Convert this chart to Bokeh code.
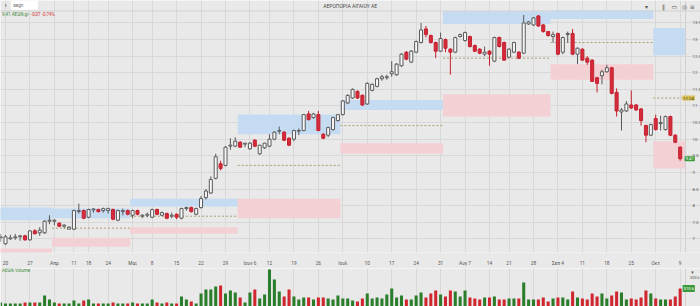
import math
from bokeh.plotting import figure
from bokeh.models import (Range1d, FixedTicker, Label, ColumnDataSource, Grid, LinearAxis,
                          Span, NumeralTickFormatter, BoxAnnotation)
from bokeh.layouts import column
from bokeh.embed import file_html
from bokeh.resources import INLINE

# ---------------- data ----------------
# trading-day index: 0 = 20 Mar 2023 ... 138 = 9 Oct 2023 (Athens exchange calendar)
day_index = list(range(-1, 139))

opens = [
    7.03, 6.85, 7.00, 7.03, 7.06, 7.09, 6.97, 7.24, 7.18, 7.18,
    7.53, 7.53, 7.47, 7.38, 7.29, 7.29, 7.82, 7.85, 7.65, 7.87,
    7.88, 7.85, 7.85, 7.88, 7.56, 7.82, 7.85, 7.71, 7.85, 7.68,
    7.71, 7.65, 7.88, 7.71, 7.76, 7.68, 7.74, 7.62, 7.91, 7.94,
    7.74, 7.94, 8.24, 8.38, 8.82, 9.26, 9.21, 9.79, 9.79, 9.91,
    9.85, 9.71, 9.97, 9.56, 9.74, 9.79, 10.00, 10.24, 10.21, 10.03,
    10.00, 10.24, 10.26, 10.76, 10.65, 10.74, 10.15, 10.12, 10.29, 10.56,
    10.74, 11.09, 11.24, 11.44, 11.32, 11.06, 11.47, 11.59, 11.82, 11.85,
    11.97, 11.94, 12.21, 12.62, 12.32, 12.62, 12.91, 13.32, 13.12, 12.91,
    12.65, 13.00, 12.71, 12.62, 13.09, 12.97, 13.09, 12.82, 12.71, 12.56,
    12.65, 12.35, 13.06, 12.91, 12.47, 12.62, 12.62, 12.59, 13.47, 13.44,
    13.71, 13.44, 13.24, 13.09, 13.18, 12.62, 13.15, 13.18, 12.56, 12.71,
    12.44, 12.38, 11.85, 11.91, 12.03, 12.15, 11.41, 10.82, 10.85, 11.03,
    11.03, 10.91, 10.41, 10.12, 10.62, 10.47, 10.29, 10.68, 10.12, 9.76,
]
highs = [
    7.15, 7.12, 7.12, 7.15, 7.12, 7.12, 7.26, 7.29, 7.35, 7.56,
    7.71, 7.59, 7.50, 7.44, 7.38, 7.88, 8.06, 7.88, 7.91, 7.91,
    7.91, 7.94, 7.94, 7.91, 7.88, 7.91, 7.88, 7.88, 7.88, 7.74,
    7.79, 7.91, 7.91, 7.82, 7.79, 7.79, 7.76, 7.94, 7.97, 7.97,
    7.94, 8.29, 8.50, 8.88, 9.56, 9.35, 9.79, 10.03, 10.06, 9.94,
    9.88, 9.91, 10.00, 9.82, 9.88, 10.15, 10.24, 10.38, 10.24, 10.06,
    10.29, 10.32, 10.76, 10.85, 10.79, 10.85, 10.18, 10.38, 10.68, 10.76,
    11.18, 11.35, 11.53, 11.47, 11.35, 11.71, 11.68, 11.85, 11.94, 11.94,
    12.35, 12.29, 12.59, 12.65, 12.68, 12.97, 13.50, 13.41, 13.15, 12.94,
    13.21, 13.03, 12.74, 13.09, 13.18, 13.24, 13.12, 12.85, 12.74, 12.79,
    12.68, 13.09, 13.09, 12.94, 12.74, 12.94, 12.65, 13.74, 13.56, 13.68,
    13.74, 13.47, 13.26, 13.24, 13.21, 13.09, 13.24, 13.32, 12.76, 12.74,
    12.50, 12.41, 11.88, 12.09, 12.24, 12.18, 11.53, 10.94, 11.15, 11.47,
    11.06, 10.94, 10.44, 10.47, 10.74, 10.71, 10.71, 10.71, 10.15, 9.79,
]
lows = [
    6.91, 6.82, 6.97, 6.97, 6.94, 6.94, 6.94, 7.15, 7.09, 7.15,
    7.44, 7.41, 7.35, 7.32, 7.29, 7.26, 7.76, 7.59, 7.62, 7.79,
    7.79, 7.79, 7.76, 7.56, 7.53, 7.71, 7.71, 7.62, 7.71, 7.62,
    7.65, 7.62, 7.71, 7.68, 7.59, 7.62, 7.59, 7.59, 7.85, 7.79,
    7.71, 7.91, 8.18, 8.35, 8.79, 9.06, 9.18, 9.68, 9.76, 9.74,
    9.76, 9.68, 9.76, 9.53, 9.71, 9.76, 9.97, 10.15, 9.94, 9.79,
    9.94, 10.12, 10.24, 10.56, 10.62, 10.24, 10.00, 10.06, 10.26, 10.53,
    10.71, 11.06, 11.21, 11.21, 11.00, 11.03, 11.44, 11.56, 11.76, 11.79,
    11.88, 11.91, 12.18, 12.38, 12.29, 12.59, 12.88, 13.06, 12.88, 12.44,
    12.62, 12.62, 11.94, 12.59, 13.06, 12.94, 12.76, 12.62, 12.56, 12.50,
    12.21, 12.32, 12.76, 12.38, 12.44, 12.59, 12.41, 12.56, 13.44, 13.41,
    13.38, 13.21, 13.09, 12.91, 12.53, 12.56, 12.91, 12.53, 12.26, 12.38,
    12.24, 11.74, 11.41, 11.65, 12.00, 11.35, 10.68, 10.26, 10.82, 10.91,
    10.85, 10.41, 9.91, 10.09, 10.26, 10.26, 10.26, 10.09, 9.88, 9.35,
]
closes = [
    7.06, 7.06, 7.03, 7.06, 7.09, 6.97, 7.24, 7.15, 7.26, 7.53,
    7.56, 7.56, 7.38, 7.41, 7.35, 7.85, 7.85, 7.62, 7.88, 7.90,
    7.82, 7.91, 7.91, 7.59, 7.85, 7.85, 7.74, 7.85, 7.74, 7.71,
    7.74, 7.88, 7.74, 7.79, 7.62, 7.71, 7.65, 7.91, 7.94, 7.82,
    7.91, 8.21, 8.44, 8.79, 9.47, 9.12, 9.76, 9.82, 9.94, 9.76,
    9.88, 9.88, 9.79, 9.82, 9.88, 10.00, 10.21, 10.26, 9.97, 9.82,
    10.26, 10.26, 10.74, 10.59, 10.76, 10.26, 10.03, 10.35, 10.65, 10.74,
    11.15, 11.32, 11.50, 11.24, 11.03, 11.68, 11.65, 11.82, 11.88, 11.88,
    12.03, 12.26, 12.56, 12.41, 12.65, 12.94, 13.29, 13.15, 12.91, 12.65,
    13.03, 12.74, 12.62, 13.06, 13.15, 13.21, 12.79, 12.65, 12.59, 12.62,
    12.56, 13.06, 12.79, 12.38, 12.71, 12.91, 12.44, 13.50, 13.53, 13.65,
    13.41, 13.24, 13.12, 13.15, 12.56, 13.06, 13.18, 12.56, 12.74, 12.38,
    12.32, 11.74, 11.68, 12.03, 12.15, 11.38, 10.85, 10.88, 11.06, 10.94,
    10.88, 10.56, 10.12, 10.44, 10.29, 10.50, 10.68, 10.12, 9.91, 9.41,
]
volumes_k = [
    69, 52, 52, 52, 52, 69, 69, 69, 69, 190,
    121, 69, 52, 52, 52, 103, 52, 103, 121, 52,
    52, 52, 52, 69, 52, 52, 52, 69, 52, 52,
    52, 121, 69, 52, 69, 52, 52, 172, 121, 86,
    52, 224, 293, 293, 345, 362, 224, 276, 241, 155,
    69, 241, 293, 138, 207, 638, 466, 259, 172, 293,
    172, 121, 155, 155, 121, 155, 155, 138, 121, 190,
    138, 138, 103, 86, 138, 224, 138, 155, 138, 207,
    310, 155, 190, 121, 121, 190, 241, 155, 224, 276,
    207, 172, 276, 259, 172, 276, 155, 138, 121, 155,
    155, 172, 121, 121, 138, 138, 138, 414, 121, 121,
    121, 155, 86, 138, 155, 155, 121, 259, 155, 138,
    121, 224, 172, 224, 138, 190, 259, 241, 121, 138,
    121, 155, 276, 224, 138, 121, 121, 121, 172, 310,
]

tick_positions = [0, 5, 10, 14, 17, 21, 26, 30, 35, 40, 45, 50, 54, 59, 64,
                  69, 74, 79, 84, 89, 94, 99, 103, 108, 113, 118, 123, 128, 133, 138]
tick_labels = ["20", "27", "Απρ", "11", "18", "24", "Μαι", "8", "15", "22", "29",
               "Ιουν 6", "12", "19", "26", "Ιουλ", "10", "17", "24", "31", "Αυγ 7",
               "14", "21", "28", "Σεπ 4", "11", "18", "25", "Οκτ", "9"]
price_ticks = [7, 7.5, 8, 8.5, 9, 9.5, 10, 10.5, 11, 11.5, 12, 12.5, 13, 13.5]
volume_ticks = [500]
volume_tick_labels = ["500 k"]

# monthly zones (Mar .. Oct): resistance (blue), support (pink), pivot (dotted)
zone_start = [-2, 9.5, 25.5, 47.5, 68.5, 89.5, 111.5, 132.5]
zone_end = [9.5, 25.5, 47.5, 68.5, 89.5, 111.5, 132.5, 139.1]
resist_top = [7.94, 7.91, 8.21, 10.74, 11.18, 13.85, 13.88, 13.35]
resist_bottom = [7.56, 7.62, 7.97, 10.15, 10.88, 13.47, 13.62, 12.53]
support_top = [6.71, 7.03, 7.35, 8.21, 9.88, 11.35, 12.26, 9.94]
support_bottom = [6.50, 6.76, 7.15, 7.62, 9.56, 10.68, 11.79, 9.12]
pivot = [float("nan"), 7.32, 7.68, 9.21, 10.41, 12.44, 12.91, 11.24]

last_price = closes[-1]
last_volume = volumes_k[-1]
oct_pivot = pivot[-1]
AXIS_AT = 139.1          # price scale sits at the right end of the data area
TAG_RIGHT = 141.0        # right edge of value tags, inside the canvas

# ---------------- styles ----------------
BG = "#e9e9e9"
GRID_C = "#d8d8d8"
UP_FILL = "#f7f7f7"
UP_LINE = "#5a5a5a"
DN_FILL = "#d52b3a"
DN_LINE = "#c4202f"
VOL_UP = "#2a7d2a"
VOL_DN = "#d0262f"
BLUE = "#c4dbf1"
PINK = "#f3d0d4"
PIVOT_C = "#ad9e6a"
FONT = "Roboto"
TXT = "#555555"

is_up = [c >= o for o, c in zip(opens, closes)]
src = ColumnDataSource(dict(
    x=day_index, high=highs, low=lows,
    top=[max(o, c) for o, c in zip(opens, closes)],
    bottom=[min(o, c) for o, c in zip(opens, closes)],
    fill=[UP_FILL if u else DN_FILL for u in is_up],
    line=[UP_LINE if u else DN_LINE for u in is_up],
    vol=volumes_k,
    vcol=[VOL_UP if u else VOL_DN for u in is_up],
))

xr = Range1d(-1.02, 142.16)

# ---------------- price panel ----------------
p = figure(width=700, height=268, title=None,
           x_range=xr, y_range=Range1d(6.588, 14.176),
           y_axis_location=None, output_backend="svg", toolbar_location=None,
           min_border_left=0, min_border_right=0, min_border_top=0, min_border_bottom=10,
           background_fill_color=BG, border_fill_color=BG, outline_line_color=None)

p.xaxis.ticker = FixedTicker(ticks=tick_positions)
p.xaxis.major_label_overrides = dict(zip(tick_positions, tick_labels))
yax = LinearAxis(fixed_location=AXIS_AT, ticker=FixedTicker(ticks=price_ticks),
                 formatter=NumeralTickFormatter(format="0.[0]"))
p.add_layout(yax, "right")
for ax in (p.xaxis[0], yax):
    ax.axis_line_color = None
    ax.major_tick_line_color = None
    ax.minor_tick_line_color = None
    ax.major_label_text_font = FONT
    ax.major_label_text_font_size = "4.8px"
    ax.major_label_text_color = TXT
    ax.major_label_standoff = 2
yax.major_label_text_font_size = "4.3px"
yax.major_label_standoff = 1
p.xgrid.grid_line_color = GRID_C
p.ygrid.grid_line_color = None
p.add_layout(Grid(dimension=1, ticker=FixedTicker(ticks=price_ticks), grid_line_color=GRID_C))
p.add_layout(Span(location=AXIS_AT, dimension="height", line_color="#d0d0d0", line_width=1))

p.quad(left=zone_start, right=zone_end, top=resist_top, bottom=resist_bottom,
       fill_color=BLUE, line_color=None)
p.quad(left=zone_start, right=zone_end, top=support_top, bottom=support_bottom,
       fill_color=PINK, line_color=None)
p.segment(x0=zone_start, x1=zone_end, y0=pivot, y1=pivot,
          line_color=PIVOT_C, line_width=1, line_dash="2 2")

p.segment(x0="x", y0="low", x1="x", y1="high", line_color="line", line_width=1, source=src)
p.vbar(x="x", width=0.62, top="top", bottom="bottom", fill_color="fill",
       line_color="line", line_width=1, source=src)

# header
p.add_layout(Span(location=13.86, dimension="width", line_color="#d2d2d2", line_width=1))
p.add_layout(BoxAnnotation(left=1.0, right=6.75, bottom=13.88, top=14.3,
                           fill_color="white", fill_alpha=1, line_color="#d0d0d0"))
p.add_layout(Label(x=-0.2, y=14.02, text="‹", text_font=FONT, text_font_size="8px",
                   text_color="#444", text_baseline="middle"))
p.add_layout(Label(x=1.6, y=14.03, text="aegn", text_font=FONT, text_font_size="4.5px",
                   text_color="#666", text_baseline="middle"))
p.add_layout(Label(x=70.5, y=14.01, text="ΑΕΡΟΠΟΡΙΑ ΑΙΓΑΙΟΥ ΑΕ", text_font=FONT,
                   text_font_size="5px", text_color="#4a4a4a",
                   text_align="center", text_baseline="middle"))
p.add_layout(Label(x=-0.7, y=13.75, text=f"{last_price:.2f} AEGN.gr".replace(".", ",", 1),
                   text_font=FONT, text_font_size="4.5px", text_color="#3a8a3a",
                   text_baseline="middle"))
p.add_layout(Label(x=5.2, y=13.75, text="-0,07 -0,74%", text_font=FONT,
                   text_font_size="4.5px", text_color="#d03030", text_baseline="middle"))
for xi, icon in [(131.1, "▾"), (134.6, "‖"), (136.8, "▭"), (138.9, "◎"), (140.5, "≡")]:
    p.add_layout(Label(x=xi, y=14.01, text=icon, text_font="DejaVu Sans",
                       text_font_size="6px", text_color="#555",
                       text_align="center", text_baseline="middle"))

# price tags on the axis
p.add_layout(Label(x=TAG_RIGHT, y=oct_pivot, text=f"{oct_pivot:.2f}", text_font=FONT,
                   text_font_size="4.2px", text_color="#333", text_baseline="middle",
                   text_align="right", background_fill_color="#d9c152", padding=1))
p.add_layout(Label(x=TAG_RIGHT, y=last_price, text=f"{last_price:.2f}", text_font=FONT,
                   text_font_size="4.2px", text_color="white", text_baseline="middle",
                   text_align="right", background_fill_color="#3c9a3c", padding=1))

# ---------------- volume panel ----------------
v = figure(width=700, height=38, title=None,
           x_range=xr, y_range=Range1d(0, 655),
           y_axis_location=None, x_axis_location=None,
           output_backend="svg", toolbar_location=None,
           min_border_left=0, min_border_right=0, min_border_top=0, min_border_bottom=0,
           background_fill_color=BG, border_fill_color=BG, outline_line_color=None)
vax = LinearAxis(fixed_location=AXIS_AT - 0.3, ticker=FixedTicker(ticks=volume_ticks))
vax.major_label_overrides = dict(zip(volume_ticks, volume_tick_labels))
vax.axis_line_color = None
vax.major_tick_line_color = None
vax.minor_tick_line_color = None
vax.major_label_text_font = FONT
vax.major_label_text_font_size = "3.9px"
vax.major_label_text_color = TXT
vax.major_label_standoff = 0
v.add_layout(vax, "right")
v.xgrid.grid_line_color = None
v.ygrid.grid_line_color = None
v.add_layout(Grid(dimension=0, ticker=FixedTicker(ticks=tick_positions), grid_line_color=GRID_C))
v.add_layout(Span(location=AXIS_AT, dimension="height", line_color="#d0d0d0", line_width=1))

v.vbar(x="x", width=0.62, top="vol", bottom=0, fill_color="vcol", line_color=None, source=src)

v.add_layout(Label(x=-0.7, y=615, text="AEGN Volume", text_font=FONT, text_font_size="4.5px",
                   text_color="#3a8a3a", text_baseline="middle"))
v.add_layout(Label(x=140.5, y=590, text="▾", text_font="DejaVu Sans", text_font_size="5px",
                   text_color="#555", text_align="center", text_baseline="middle"))
v.add_layout(Label(x=TAG_RIGHT, y=last_volume, text=f"{last_volume} k", text_font=FONT,
                   text_font_size="4.2px", text_color="white", text_baseline="middle",
                   text_align="right", background_fill_color="#3c9a3c", padding=1))

layout = column(p, v, spacing=0)
open("out.html", "w").write(file_html(layout, INLINE))
